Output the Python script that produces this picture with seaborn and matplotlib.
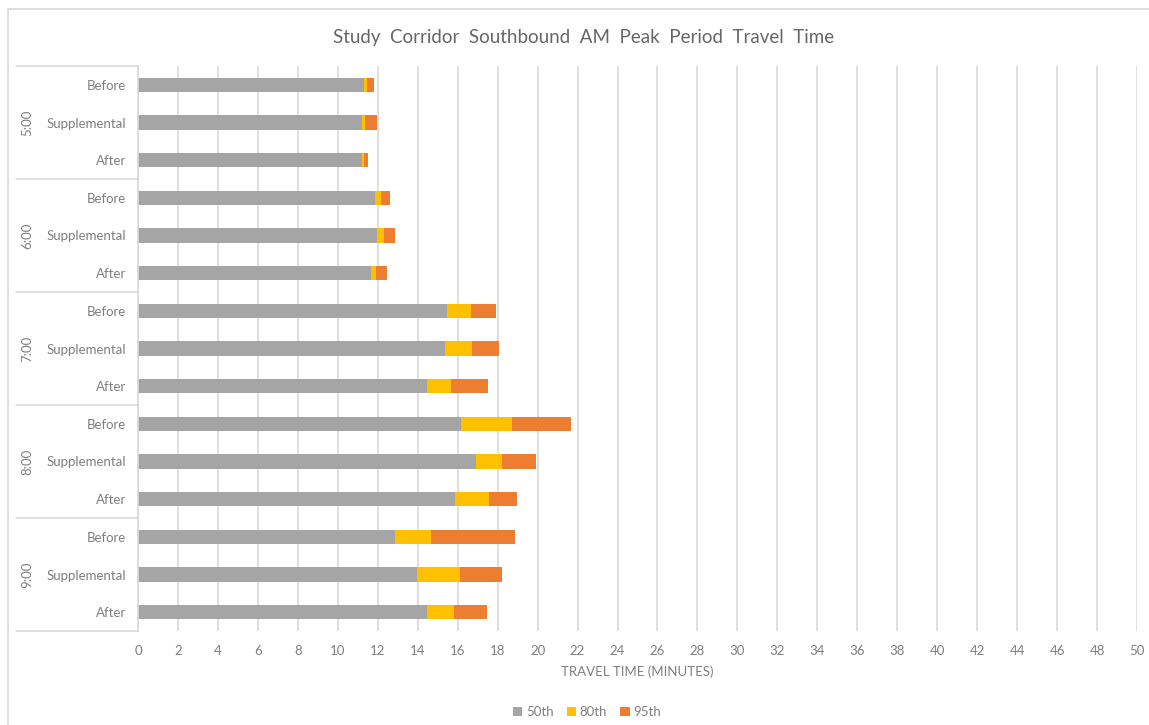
import matplotlib
matplotlib.use("Agg")
import matplotlib.pyplot as plt
from matplotlib.patches import Patch, Rectangle
from matplotlib.transforms import blended_transform_factory
import seaborn as sns
import pandas as pd
import numpy as np

# Travel time percentiles (minutes) for each hour and study period
hours = ["5:00", "6:00", "7:00", "8:00", "9:00"]
periods = ["Before", "Supplemental", "After"]
p50 = [11.30, 11.23, 11.20, 11.87, 11.97, 11.65, 15.47, 15.35, 14.47,
       16.17, 16.93, 15.88, 12.87, 13.97, 14.47]
p80 = [11.45, 11.35, 11.30, 12.17, 12.30, 11.93, 16.67, 16.72, 15.67,
       18.72, 18.23, 17.57, 14.67, 16.13, 15.80]
p95 = [11.80, 11.97, 11.53, 12.60, 12.85, 12.45, 17.93, 18.08, 17.50,
       21.65, 19.92, 18.97, 18.85, 18.20, 17.48]
series_names = ["50th", "80th", "95th"]
series_colors = ["#A5A5A5", "#FFC000", "#ED7D31"]

sns.set_theme(style="white")
plt.rcParams["font.family"] = ["Lato", "DejaVu Sans"]

rows = [f"{h} {p}" for h in hours for p in periods]
df = pd.DataFrame({
    "row": rows,
    "hour": np.repeat(hours, len(periods)),
    "period": periods * len(hours),
    "50th": p50, "80th": p80, "95th": p95,
})

W, H = 1149, 725
fig = plt.figure(figsize=(W / 100, H / 100), dpi=100)
fig.patch.set_facecolor("white")
left, right, top, bottom = 138, 1137, 66, 631
ax = fig.add_axes([left / W, 1 - bottom / H, (right - left) / W, (bottom - top) / H])

grid_c = "#D9D9D9"
text_c = "#7F7F7F"

# Cumulative percentiles drawn longest first so each shorter one sits on top
for name, color in zip(series_names[::-1], series_colors[::-1]):
    sns.barplot(data=df, x=name, y="row", order=rows, orient="h",
                color=color, saturation=1, width=0.38, ax=ax, linewidth=0)

ax.set_xlim(0, 50)
ax.set_xticks(np.arange(0, 51, 2))
ax.set_ylim(len(rows) - 0.5, -0.5)
ax.set_yticks(range(len(rows)))
ax.set_yticklabels(df["period"])
ax.tick_params(axis="y", length=0, pad=8.6, labelsize=9.5, labelcolor=text_c)
ax.tick_params(axis="x", length=0, pad=10, labelsize=9.5, labelcolor=text_c)
ax.set_ylabel("")
ax.set_xlabel("TRAVEL TIME (MINUTES)", fontsize=9.5, color=text_c, labelpad=6)

ax.xaxis.grid(True, color=grid_c, linewidth=1.2)
ax.set_axisbelow(True)
for s in ["top", "right", "bottom"]:
    ax.spines[s].set_visible(False)
ax.spines["left"].set_color(grid_c)
ax.spines["left"].set_linewidth(1.2)

# Grouped category axis: hour labels and separators
trans = blended_transform_factory(ax.transAxes, ax.transData)
x0 = (16 - left) / (right - left)
for i, h in enumerate(hours):
    ax.plot([x0, 0], [i * 3 - 0.5, i * 3 - 0.5], color=grid_c, lw=1.2,
            transform=trans, clip_on=False)
    ax.text((27 - left) / (right - left), i * 3 + 1, h, rotation=90,
            ha="center", va="center", fontsize=9.5, color=text_c,
            transform=trans)
ax.plot([x0, 0], [len(rows) - 0.5] * 2, color=grid_c, lw=1.2,
        transform=trans, clip_on=False)

fig.text(584 / W, 1 - 37 / H, "Study  Corridor  Southbound  AM  Peak  Period  Travel  Time",
         ha="center", va="center", fontsize=13.5, color="#666666")

handles = [Patch(facecolor=c, edgecolor="none", label=n)
           for n, c in zip(series_names, series_colors)]
fig.legend(handles=handles, loc="center", bbox_to_anchor=(587 / W, 1 - 712 / H),
           ncol=3, frameon=False, fontsize=9.5, labelcolor=text_c,
           handlelength=0.7, handleheight=0.7, handletextpad=0.3,
           columnspacing=1.0)

# Chart area border
fig.patches.append(Rectangle((8 / W, -0.2), 1.2, 1.2 - 9 / H, transform=fig.transFigure,
                             fill=False, edgecolor=grid_c, linewidth=1.2))

fig.savefig("out.png", dpi=100)
